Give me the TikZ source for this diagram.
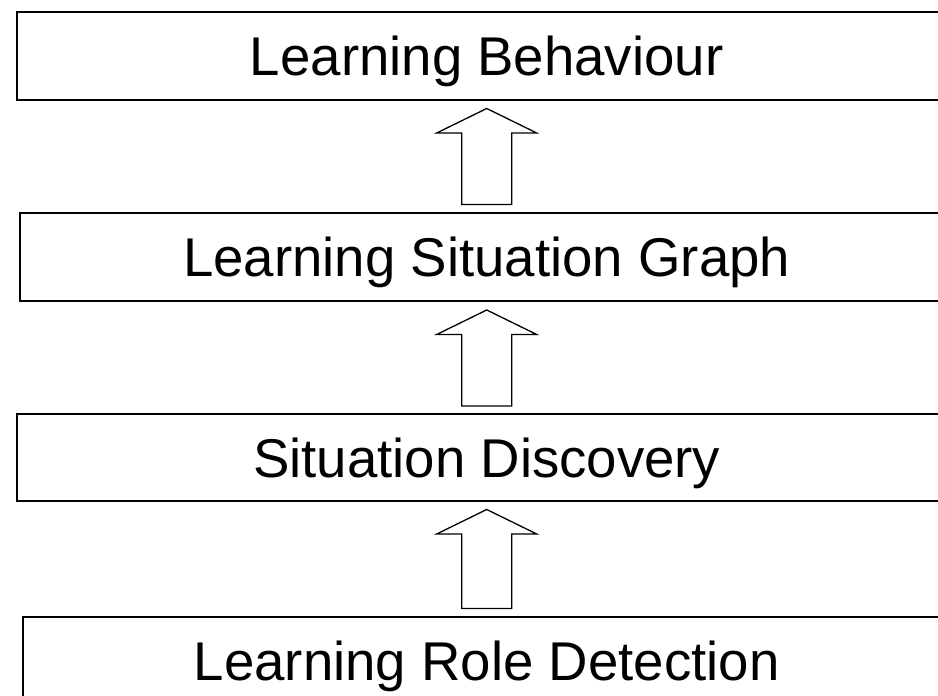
\documentclass[tikz,border=0pt]{standalone}
\usepackage{fontspec}
\setmainfont{Liberation Sans}
\usetikzlibrary{calc}
\tikzset{
  layer/.style={draw=black, line width=1pt, fill=white, align=center,
    font=\fontsize{27.3}{32}\selectfont, text height=19.5pt, text depth=0pt,
    inner sep=0pt, minimum height=44pt},
  liftarr/.style={draw=black, line width=0.65pt, fill=white, line join=miter}
}

\begin{document}
\begin{tikzpicture}[x=0.5pt, y=0.5pt]
  \useasboundingbox (0,0) rectangle (938,696);
  \clip (0,0) rectangle (938,696);

  \node[layer, minimum width=469.5pt] (behave) at (486.7,640) {Learning Behaviour};
  \node[layer, minimum width=466.5pt, minimum height=44.25pt] (graph) at (486.7,438.75) {Learning Situation Graph};
  \node[layer, minimum width=469.5pt, minimum height=43.25pt] (discover) at (486.7,238.25) {Situation Discovery};
  \node[layer, minimum width=463.5pt] (detect) at (486.7,35) {Learning Role Detection};

  % hollow arrows between the layers
  \foreach \lo/\hi in {detect/discover, discover/graph, graph/behave}{
    \draw[liftarr] ($(\lo.north)+(-25,7.5)$) -- ($(\hi.south)+(-25,-32)$) -- ++(-25,0)
      -- ($(\hi.south)+(0,-7.5)$) -- ($(\hi.south)+(50,-32)$) -- ++(-25,0)
      -- ($(\lo.north)+(25,7.5)$) -- cycle;
  }
\end{tikzpicture}
\end{document}
